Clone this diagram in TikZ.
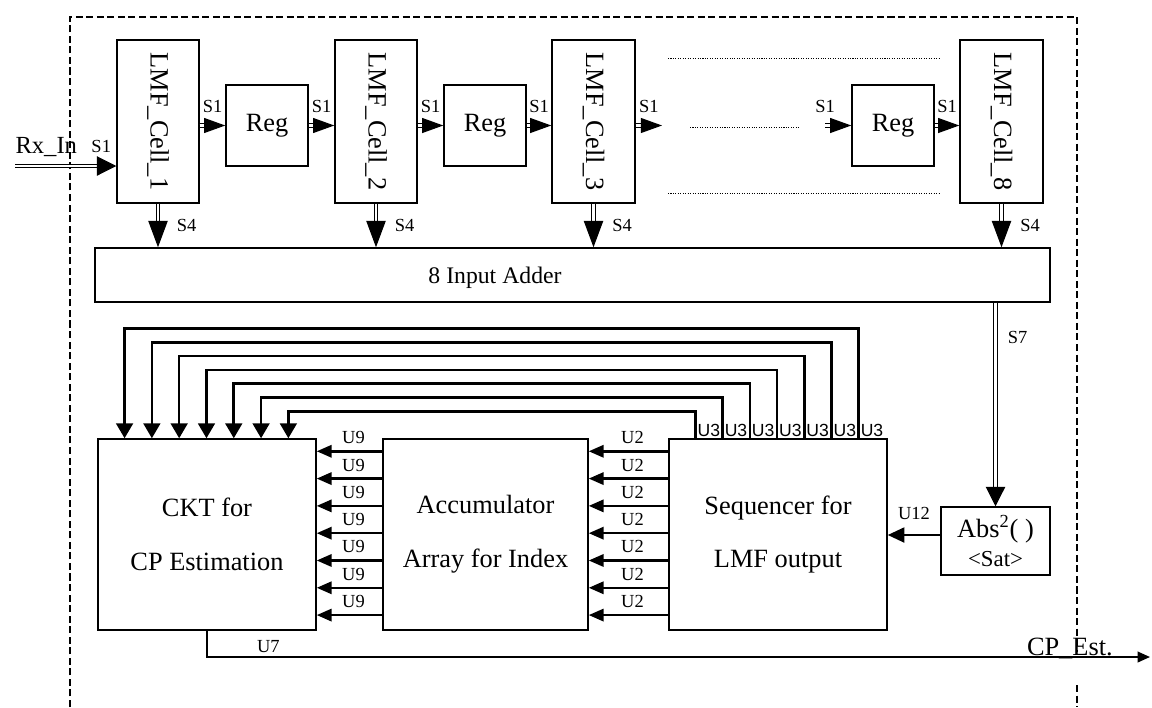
\documentclass[tikz,border=0pt]{standalone}
\usepackage{fontspec}
\usepackage{graphicx}
\setmainfont{Liberation Serif}
\newfontfamily\lblsans{Liberation Sans}
\usetikzlibrary{arrows.meta, positioning, calc}

\begin{document}
\begin{tikzpicture}[x=0.02cm, y=-0.02cm,
  every node/.style={font=\fontsize{15}{18}\selectfont},
  block/.style={rectangle, draw, line width=0.85pt, inner sep=0pt, align=center},
  cellbox/.style={block, minimum width=1.64cm, minimum height=3.26cm},
  regbox/.style={block, minimum width=1.64cm, minimum height=1.62cm},
  bigbox/.style={block, minimum height=3.82cm, font=\fontsize{15}{30.6}\selectfont},
  tag/.style={font=\fontsize{10.5}{12}\selectfont, inner sep=1pt},
  u3tag/.style={font=\lblsans\fontsize{10}{12}\selectfont, inner sep=1pt, anchor=south west},
  sig/.style={double, double distance=1.5pt, line width=0.6pt, -{Triangle[length=12pt, width=8.5pt]}},
  sigbig/.style={sig, -{Triangle[length=15pt, width=11pt]}},
  bus/.style={line width=1.4pt, -{Triangle[length=8.5pt, width=7pt]}},
  fb/.style={line width=1.5pt, -{Triangle[length=8.5pt, width=9.5pt]}},
  frame/.style={line width=0.6pt, dash pattern=on 4pt off 2pt},
  dots/.style={line width=0.5pt, dash pattern=on 0.6pt off 0.8pt},
]
\useasboundingbox (0,0) rectangle (1152,707);

% outer dashed frame
\draw[frame] (70,707) -- (70,17) -- (1077,17) -- (1077,652);
\draw[frame] (1077,685) -- (1077,707);

% LMF chain
\node[cellbox] (cell1) at (158,121.5) {\rotatebox{-90}{LMF\_Cell\_1}};
\node[regbox] (reg1) at (267,125.5) {Reg};
\node[cellbox] (cell2) at (376,121.5) {\rotatebox{-90}{LMF\_Cell\_2}};
\node[regbox] (reg2) at (485,125.5) {Reg};
\node[cellbox, minimum width=1.66cm] (cell3) at (593.5,121.5) {\rotatebox{-90}{LMF\_Cell\_3}};
\node[regbox] (reg8) at (893,125.5) {Reg};
\node[cellbox, minimum width=1.66cm] (cell8) at (1001.5,121.5) {\rotatebox{-90}{LMF\_Cell\_8}};

\draw[dots] (668,58) -- (939,58);
\draw[dots] (690,127) -- (800,127);
\draw[dots] (668,193) -- (939,193);

\coordinate (rxin) at (15,166);
\coordinate (c3out) at (662,125.5);
\coordinate (r8in) at (825,125.5);

\draw[sig, -{Triangle[length=11pt, width=11pt]}] (rxin) -- (rxin -| cell1.west)
  node[pos=0, anchor=base west, yshift=0.26cm, font=\fontsize{14}{16}\selectfont, inner sep=0pt] {Rx\_In}
  node[pos=1, tag, anchor=south east, xshift=-0.06cm, yshift=0.22cm] {S1};
\draw[sig] (cell1.east |- reg1.west) -- (reg1.west) node[midway, tag, above=6pt] {S1};
\draw[sig] (reg1.east) -- (reg1.east -| cell2.west) node[midway, tag, above=6pt] {S1};
\draw[sig] (cell2.east |- reg2.west) -- (reg2.west) node[midway, tag, above=6pt] {S1};
\draw[sig] (reg2.east) -- (reg2.east -| cell3.west) node[midway, tag, above=6pt] {S1};
\draw[sig] (cell3.east |- c3out) -- (c3out) node[midway, tag, above=6pt] {S1};
\draw[sig] (r8in) -- (reg8.west) node[pos=0, tag, above=6pt] {S1};
\draw[sig] (reg8.east) -- (reg8.east -| cell8.west) node[midway, tag, above=6pt] {S1};

% adder
\node[block, minimum width=19.1cm, minimum height=1.08cm] (adder) at (572.5,275) {};
\node[font=\fontsize{13.5}{16}\selectfont] (addtxt) at (495,278) {8 Input Adder};

\foreach \c in {cell1,cell2,cell3,cell8}
  \draw[sigbig] (\c.south) -- (\c.south |- adder.north) node[midway, tag, right=9.5pt] {S4};

% lower blocks
\node[bigbox, minimum width=4.36cm] (ckt) at (207,534.5) {CKT for\\CP Estimation};
\node[bigbox, minimum width=4.1cm] (acc) at (485.5,534.5) {Accumulator\\Array for Index};
\node[bigbox, minimum width=4.36cm] (seq) at (778,534.5) {Sequencer for\\LMF output};
\node[block, minimum width=2.18cm, minimum height=1.36cm, font=\fontsize{15}{16.5}\selectfont] (abs) at (995.5,541)
  {Abs\textsuperscript{2}( )\\{\fontsize{13}{14}\selectfont <Sat>}};

\draw[sigbig, -{Triangle[length=11pt, width=11pt]}] (abs.north |- adder.south) -- (abs.north)
  node[pos=0.17, tag, right=5.7pt] {S7};
\draw[bus, -{Triangle[length=9.5pt, width=8.5pt]}] ($(abs.west)+(0,-6)$) -- ($(abs.west -| seq.east)+(0,-6)$)
  node[midway, tag, above=6.8pt] {U12};

\foreach \k in {0,...,6} {
  \draw[bus] ($(acc.north west)+(0,13+27.3*\k)$) -- ($(ckt.north east)+(0,13+27.3*\k)$)
    node[midway, tag, above=2.5pt, xshift=0.08cm] {U9};
  \draw[bus] ($(seq.north west)+(0,13+27.3*\k)$) -- ($(acc.north east)+(0,13+27.3*\k)$)
    node[midway, tag, above=2.5pt, xshift=0.08cm] {U2};
}

% feedback from sequencer
\foreach \i in {1,...,7} {
  \draw[fb] ($(seq.north west)+(27.2*\i,0)$) -- ++(0,{-27-13.8*(\i-1)}) -| ($(ckt.north west)+({27.3*(8-\i)},0)$);
  \node[u3tag] at ($(seq.north west)+(27.2*\i,0)$) {U3};
}

% estimate output
\coordinate (cpout) at (1150,657);
\draw[line width=1.1pt, -{Triangle[length=7pt, width=6pt]}] (ckt.south) -- (ckt.south |- cpout) -- (cpout)
  node[pos=0.065, tag, above=1pt] {U7}
  node[pos=0.915, anchor=base, yshift=0.03cm, inner sep=0pt] {CP\_Est.};
\end{tikzpicture}
\end{document}
